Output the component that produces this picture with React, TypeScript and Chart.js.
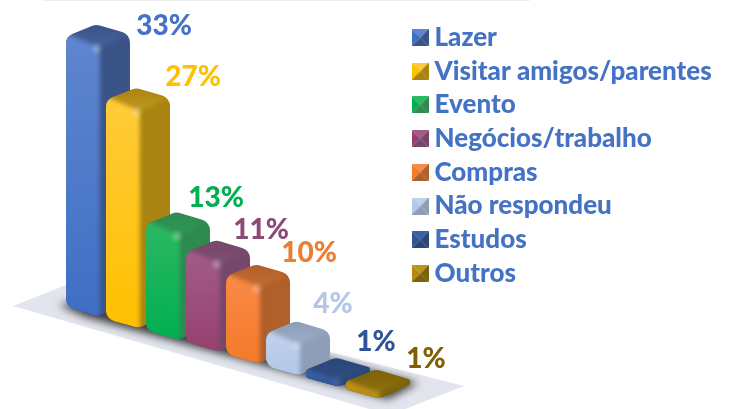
import React, { useEffect, useRef } from "react";
import { Chart, registerables } from "chart.js";

Chart.register(...registerables);

const categories = ["Lazer", "Visitar amigos/parentes", "Evento", "Negócios/trabalho", "Compras", "Não respondeu", "Estudos", "Outros"];
const values = [33, 26.7, 13, 11, 9.5, 4, 1, 1];
const frontColors = ["#3f6fc4", "#ffc000", "#00b050", "#96406f", "#f57a2a", "#b4c7e7", "#2f5597", "#b58a0c"];
const frontLight = ["#5f86cf", "#ffcb3a", "#2cb862", "#a15c88", "#f98a47", "#c0d1ec", "#3a62a4", "#bd9420"];
const sideColors = ["#3a5488", "#a98412", "#2f8a50", "#75486a", "#b0602a", "#8e9eb8", "#2c4678", "#7c6208"];
const labelColors = ["#4472c4", "#ffc000", "#00b050", "#8a4a75", "#ed7d31", "#b4c7e7", "#2f5597", "#7f6000"];
const labelOffsets = [[98, -10], [87, -22.5], [70, -26], [75, -22], [83, -23], [67, -29], [70, -28], [80, -22]];
const BASE_SLOPE = 0.295;

function swatch(light: string, mid: string, dark: string) {
  const c = document.createElement("canvas");
  c.width = 17;
  c.height = 17;
  const g = c.getContext("2d")!;
  const tri = (pts: number[][], col: string) => {
    g.fillStyle = col;
    g.beginPath();
    g.moveTo(pts[0][0], pts[0][1]);
    g.lineTo(pts[1][0], pts[1][1]);
    g.lineTo(pts[2][0], pts[2][1]);
    g.closePath();
    g.fill();
  };
  const m = [9, 8.5];
  tri([[0, 0], [17, 0], m], light);
  tri([[0, 0], [0, 17], m], mid);
  tri([[17, 0], [17, 17], m], dark);
  tri([[0, 17], [17, 17], m], dark);
  return c;
}

function roundedPoly(ctx: CanvasRenderingContext2D, pts: number[][], r: number) {
  const n = pts.length;
  const a = pts[n - 1], b = pts[0];
  ctx.beginPath();
  ctx.moveTo((a[0] + b[0]) / 2, (a[1] + b[1]) / 2);
  for (let i = 0; i < n; i++) {
    const p = pts[i], q = pts[(i + 1) % n];
    const prev = pts[(i - 1 + n) % n];
    const lim = Math.min(Math.hypot(p[0] - q[0], p[1] - q[1]), Math.hypot(p[0] - prev[0], p[1] - prev[1])) * 0.45;
    ctx.arcTo(p[0], p[1], q[0], q[1], Math.min(r, lim));
  }
  ctx.closePath();
}

function poly(ctx: CanvasRenderingContext2D, pts: number[][]) {
  ctx.beginPath();
  pts.forEach((p, i) => (i ? ctx.lineTo(p[0], p[1]) : ctx.moveTo(p[0], p[1])));
  ctx.closePath();
}

const threeD = {
  id: "threeD",
  afterLayout(chart: any) {
    const lg = chart.legend;
    if (lg) {
      const p = chart.options.plugins.legend.labels.padding;
      const w = lg.width;
      lg.left = 418.5 - p;
      lg.right = lg.left + w;
      lg.top = 24.5 - p;
    }
  },
  beforeDatasetsDraw(chart: any) {
    const ctx: CanvasRenderingContext2D = chart.ctx;
    const meta = chart.getDatasetMeta(0);
    const el0 = meta.data[0];
    const L0 = el0.x - el0.width / 2;
    const B0 = el0.base;
    ctx.save();
    ctx.fillStyle = "#eeeeee";
    ctx.fillRect(L0 - 24, 0, 488, 1);
    ctx.fillStyle = "#e2e5ed";
    poly(ctx, [[L0 - 53, B0 - 1], [L0, B0 - 22], [L0 + 398, B0 + 79], [L0 + 324, B0 + 108]]);
    ctx.fill();
    ctx.filter = "blur(4px)";
    ctx.fillStyle = "#3a3a3a";
    poly(ctx, [[L0 - 7, B0 - 2], [L0 + 30, B0 - 10], [L0 + 352, B0 + 76], [L0 + 322, B0 + 92], [L0 + 20, B0 + 10]]);
    ctx.fill();
    ctx.restore();
  },
  beforeDatasetDraw(chart: any) {
    const ctx: CanvasRenderingContext2D = chart.ctx;
    const meta = chart.getDatasetMeta(0);
    const firstX = meta.data[0].x;
    meta.data.forEach((el: any, i: number) => {
      const w = el.width;
      const L = el.x - w / 2;
      const dy = BASE_SLOPE * (el.x - firstX);
      const yt = el.y + dy;
      const yb = el.base + dy;
      const fx = L + 0.82 * w;
      const R = L + 1.6 * w;
      const TF = [fx, yt + 12];
      const TB = [L + 0.75 * w, yt - 12];
      const TR = [R, yt - 2];
      const BR = [R, yb - 5];
      const BF = [fx, yb + 9];
      const TL = [L, yt];
      const BL = [L, yb];
      ctx.save();
      roundedPoly(ctx, [TL, TB, TR, BR, BF, BL], 11);
      ctx.clip();
      ctx.fillStyle = sideColors[i];
      ctx.fillRect(L - 2, yt - 16, 1.7 * w, yb - yt + 32);
      ctx.filter = "blur(2px)";
      const tg = ctx.createLinearGradient(0, yt - 12, 0, yt + 12);
      tg.addColorStop(0, sideColors[i]);
      tg.addColorStop(1, frontLight[i]);
      ctx.globalAlpha = 0.3;
      ctx.fillStyle = tg;
      poly(ctx, [TL, TB, TR, TF]);
      ctx.fill();
      ctx.globalAlpha = 1;
      const fg = ctx.createLinearGradient(0, yt, 0, yb + 9);
      fg.addColorStop(0, frontLight[i]);
      fg.addColorStop(1, frontColors[i]);
      ctx.fillStyle = fg;
      const bend = Math.min(5, (yb - yt) / 3);
      poly(ctx, [[L - 4, yt - bend], [TF[0] - 4, TF[1] - 3], [TF[0] + 1, TF[1] + 2], [BF[0] + 1, BF[1] + 4], [L - 4, yb + 6]]);
      ctx.fill();
      ctx.filter = "none";
      const tall = yb - yt > 20;
      const hg = ctx.createRadialGradient(TF[0] - 2, TF[1], 0, TF[0] - 2, TF[1], 7);
      hg.addColorStop(0, tall ? "rgba(255,255,255,0.3)" : "rgba(255,255,255,0.08)");
      hg.addColorStop(1, "rgba(255,255,255,0)");
      ctx.fillStyle = hg;
      ctx.fillRect(TF[0] - 12, TF[1] - 10, 22, 20);
      ctx.restore();
    });
    return false;
  },
  afterDatasetsDraw(chart: any) {
    const ctx: CanvasRenderingContext2D = chart.ctx;
    const meta = chart.getDatasetMeta(0);
    const firstX = meta.data[0].x;
    ctx.save();
    ctx.font = "900 28px Lato";
    ctx.textAlign = "center";
    ctx.textBaseline = "middle";
    meta.data.forEach((el: any, i: number) => {
      const dy = BASE_SLOPE * (el.x - firstX);
      const L = el.x - el.width / 2;
      ctx.fillStyle = labelColors[i];
      ctx.fillText(Math.round(values[i]) + "%", L + labelOffsets[i][0], el.y + dy + labelOffsets[i][1]);
    });
    ctx.restore();
  },
};

export default function App() {
  const ref = useRef<HTMLCanvasElement>(null);
  useEffect(() => {
    const swatches = categories.map((_, i) => swatch(frontLight[i], frontColors[i], sideColors[i]));
    const chart = new Chart(ref.current!, {
      type: "bar",
      data: {
        labels: categories,
        datasets: [{ data: values, backgroundColor: frontColors, barPercentage: 1, categoryPercentage: 1 }],
      },
      options: {
        animation: false,
        responsive: false,
        layout: { padding: { left: 66, right: 34, top: 11.8, bottom: 102 } },
        scales: {
          x: { display: false },
          y: { display: false, min: 0, max: 36 },
        },
        plugins: {
          tooltip: { enabled: false },
          legend: {
            position: "right",
            align: "start",
            labels: {
              usePointStyle: true,
              pointStyleWidth: 3,
              padding: 7.7,
              color: "#4472c4",
              font: { family: "Lato", weight: "900", size: 26 },
              generateLabels: () =>
                categories.map((t, i) => ({
                  text: t,
                  fontColor: "#4472c4",
                  pointStyle: swatches[i],
                  rotation: 0,
                  hidden: false,
                  index: i,
                })),
            },
          },
        },
      } as any,
      plugins: [threeD as any],
    });
    return () => chart.destroy();
  }, []);
  return <canvas ref={ref} width={731} height={409} style={{ position: "absolute", left: 0, top: 0 }} />;
}
